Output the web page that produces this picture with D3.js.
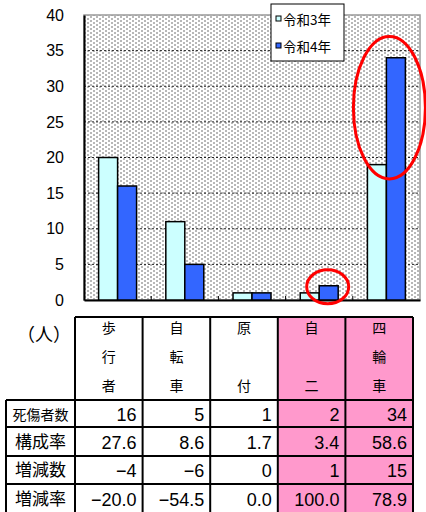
<!DOCTYPE html>
<html>
<head>
<meta charset="utf-8">
<script src="https://cdn.jsdelivr.net/npm/d3@7"></script>
<style>
  body { margin: 0; background: #fff; }
  svg { display: block; }
</style>
</head>
<body>
<svg id="chart"></svg>
<script>
// data
const categories = ['歩行者', '自転車', '原付', '自二', '四輪車'];
const headerChars = [['歩', '行', '者'], ['自', '転', '車'], ['原', '', '付'], ['自', '', '二'], ['四', '輪', '車']];
const seriesNames = ['令和3年', '令和4年'];
const r3 = [20, 11, 1, 1, 19];
const r4 = [16, 5, 1, 2, 34];
const yTicks = [0, 5, 10, 15, 20, 25, 30, 35, 40];
const highlighted = ['自二', '四輪車'];
const rowLabels = ['死傷者数', '構成率', '増減数', '増減率'];
const casualties = ['16', '5', '1', '2', '34'];
const shares = ['27.6', '8.6', '1.7', '3.4', '58.6'];
const diffs = ['−4', '−6', '0', '1', '15'];
const diffRates = ['−20.0', '−54.5', '0.0', '100.0', '78.9'];
const unitLabel = '（人）';

const width = 426, height = 512;
const colors = ['#CCFFFF', '#3366FF'];
const jp = '"Noto Sans CJK JP", sans-serif';
const num = '"Liberation Sans", Arial, sans-serif';

const svg = d3.select('#chart').attr('width', width).attr('height', height);

// dotted background pattern
const defs = svg.append('defs');
const pat = defs.append('pattern').attr('id', 'dots')
  .attr('width', 6).attr('height', 4).attr('patternUnits', 'userSpaceOnUse');
pat.append('rect').attr('width', 6).attr('height', 4).attr('fill', '#fff');
pat.append('rect').attr('x', 0).attr('y', 0).attr('width', 2).attr('height', 2).attr('fill', '#b8b8b8');
pat.append('rect').attr('x', 3).attr('y', 2).attr('width', 2).attr('height', 2).attr('fill', '#b8b8b8');

const plot = { left: 84, right: 420, top: 15, bottom: 300 };

const x = d3.scaleBand().domain(categories)
  .range([plot.left, plot.right]).paddingInner(0.435).paddingOuter(0.2175);
const xs = d3.scaleBand().domain(seriesNames).range([0, x.bandwidth()]);
const y = d3.scaleLinear().domain([0, 40]).range([plot.bottom, plot.top]);

svg.append('rect')
  .attr('x', plot.left).attr('y', plot.top)
  .attr('width', plot.right - plot.left).attr('height', plot.bottom - plot.top)
  .attr('fill', 'url(#dots)').attr('stroke', '#999').attr('stroke-width', 1.5);

// gridlines
svg.append('g').selectAll('line').data(yTicks.filter(d => d > 0 && d < 40)).enter().append('line')
  .attr('x1', plot.left).attr('x2', plot.right)
  .attr('y1', d => y(d)).attr('y2', d => y(d))
  .attr('stroke', '#222').attr('stroke-width', 1).attr('stroke-dasharray', '2,2');

// y axis
const yAxis = svg.append('g').attr('transform', `translate(${plot.left},0)`)
  .call(d3.axisLeft(y).tickValues(yTicks).tickSize(0).tickPadding(20));
yAxis.select('.domain').attr('stroke', '#000').attr('stroke-width', 2);
yAxis.selectAll('text').attr('font-family', num).attr('font-size', 16).attr('fill', '#000');

// x axis
const xAxis = svg.append('g').attr('transform', `translate(0,${plot.bottom})`)
  .call(d3.axisBottom(x).tickSize(0).tickFormat(''));
xAxis.select('.domain').attr('stroke', '#000').attr('stroke-width', 2);
svg.append('g').selectAll('line').data(categories.slice(1)).enter().append('line')
  .attr('x1', d => x(d) - x.step() * x.paddingInner() / 2)
  .attr('x2', d => x(d) - x.step() * x.paddingInner() / 2)
  .attr('y1', plot.bottom).attr('y2', plot.bottom - 4)
  .attr('stroke', '#000').attr('stroke-width', 1);

// bars
const series = [r3, r4];
series.forEach((vals, si) => {
  svg.append('g').selectAll('rect').data(categories).enter().append('rect')
    .attr('x', d => x(d) + xs(seriesNames[si]))
    .attr('y', (d, i) => y(vals[i]))
    .attr('width', xs.bandwidth())
    .attr('height', (d, i) => y(0) - y(vals[i]))
    .attr('fill', colors[si]).attr('stroke', '#000').attr('stroke-width', 1.5);
});

// legend
const lg = svg.append('g').attr('transform', 'translate(271,4)');
lg.append('rect').attr('width', 73).attr('height', 57).attr('fill', '#fff').attr('stroke', '#000').attr('stroke-width', 1);
seriesNames.forEach((s, i) => {
  lg.append('rect').attr('x', 5).attr('y', 12 + i * 27).attr('width', 5).attr('height', 5)
    .attr('fill', colors[i]).attr('stroke', '#000').attr('stroke-width', 1);
  lg.append('text').attr('x', 12).attr('y', 20.5 + i * 27)
    .attr('font-family', jp).attr('font-size', 13.5).text(s);
});

// red ellipses
const last = categories[4], moto = categories[3];
svg.append('ellipse')
  .attr('cx', x(last) + x.bandwidth() / 2 + 3).attr('cy', y(27))
  .attr('rx', 36).attr('ry', y(0) - y(10))
  .attr('fill', 'none').attr('stroke', '#ff0000').attr('stroke-width', 3);
svg.append('ellipse')
  .attr('cx', x(moto) + xs(seriesNames[1]) + xs.bandwidth() / 2 - 1).attr('cy', y(r4[3]) + 1)
  .attr('rx', 21).attr('ry', 17)
  .attr('fill', 'none').attr('stroke', '#ff0000').attr('stroke-width', 3);

// table
const colW = 67.6;
const tLeft = 6, tLabelRight = 75;
const headTop = 317, headBottom = 400;
const rowYs = [400, 427, 456, 484, 513];
const rowsData = [casualties, shares, diffs, diffRates];
const tbl = svg.append('g');
const tx = categories.map((c, i) => tLabelRight + i * colW);

// pink fill
tbl.selectAll('rect.hl').data(categories.filter(c => highlighted.includes(c))).enter().append('rect')
  .attr('x', c => tx[categories.indexOf(c)]).attr('y', headTop)
  .attr('width', colW).attr('height', height - headTop)
  .attr('fill', '#FF99CC');

// header chars
categories.forEach((c, i) => {
  headerChars[i].forEach((ch, k) => {
    tbl.append('text').attr('x', tx[i] + colW / 2).attr('y', 333 + k * 29)
      .attr('text-anchor', 'middle').attr('font-family', jp).attr('font-size', 14).text(ch);
  });
});
tbl.append('text').attr('x', 44).attr('y', 341).attr('text-anchor', 'middle')
  .attr('font-family', jp).attr('font-size', 18).text(unitLabel);

// row labels + values
rowLabels.forEach((lab, r) => {
  const yc = (rowYs[r] + rowYs[r + 1]) / 2;
  tbl.append('text').attr('x', (tLeft + tLabelRight) / 2).attr('y', yc + 6)
    .attr('text-anchor', 'middle').attr('font-family', jp)
    .attr('font-size', lab.length > 3 ? 14 : 17).text(lab);
  rowsData[r].forEach((v, i) => {
    tbl.append('text').attr('x', tx[i] + colW - 6).attr('y', yc + 7)
      .attr('text-anchor', 'end').attr('font-family', num).attr('font-size', 18).text(v);
  });
});

// table rules
const lineG = tbl.append('g').attr('stroke', '#000').attr('stroke-width', 2);
lineG.append('line').attr('x1', tLabelRight).attr('x2', tx[4] + colW).attr('y1', headTop).attr('y2', headTop);
rowYs.slice(0, 4).forEach(yy => {
  lineG.append('line').attr('x1', tLeft).attr('x2', tx[4] + colW).attr('y1', yy).attr('y2', yy);
});
lineG.append('line').attr('x1', tLeft).attr('x2', tLeft).attr('y1', headBottom).attr('y2', height);
d3.range(6).forEach(i => {
  const xx = tLabelRight + i * colW;
  lineG.append('line').attr('x1', xx).attr('x2', xx).attr('y1', headTop).attr('y2', height);
});
</script>
</body>
</html>
